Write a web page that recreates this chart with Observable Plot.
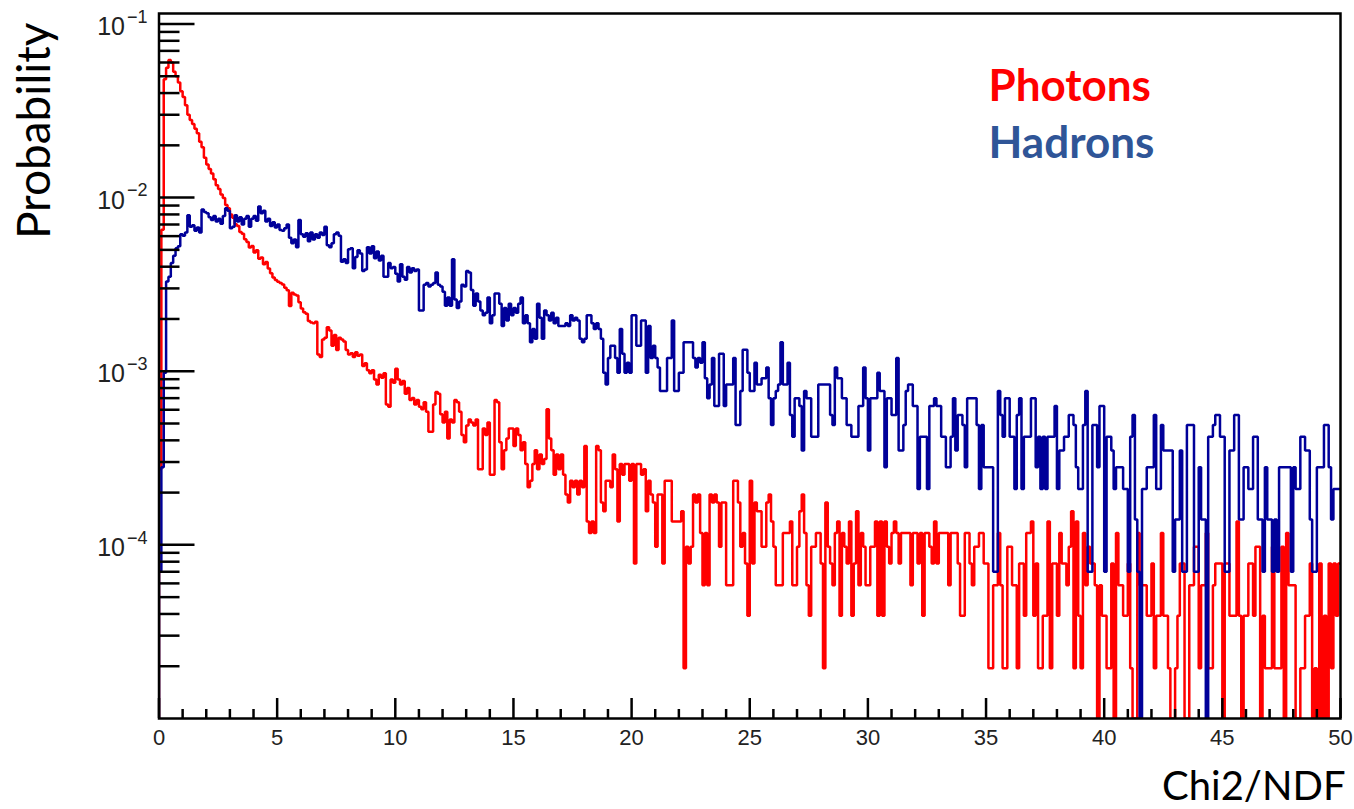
<!DOCTYPE html>
<html>
<head>
<meta charset="utf-8">
<script src="https://cdn.jsdelivr.net/npm/d3@7"></script>
<script src="https://cdn.jsdelivr.net/npm/@observablehq/plot@0.6"></script>
<style>
  html, body { margin: 0; padding: 0; background: #ffffff; }
  #chart { width: 1354px; height: 809px; }
</style>
</head>
<body>
<div id="chart"></div>
<script>
// ---------------- data ----------------
const binWidth = 0.1;              // Chi2/NDF bin width (500 bins from 0 to 50)
const photonUnit = 1.95e-5;        // probability of one photon entry
const hadronUnit = 7.0e-5;         // probability of one hadron entry

// entries per bin
const photonCounts = [
  14, 335, 2460, 2870, 3180, 3080, 2720, 2560, 2360, 2100,
  1950, 1745, 1540, 1435, 1360, 1280, 1205, 1075, 1000, 870,
  795, 750, 705, 655, 605, 575, 535, 510, 465, 445,
  410, 392, 360, 352, 325, 318, 295, 285, 265, 270,
  248, 255, 228, 232, 212, 218, 200, 188, 178, 172,
  168, 165, 162, 155, 150, 122, 145, 142, 140, 128,
  118, 112, 110, 100, 98, 97, 99, 64, 62, 78,
  80, 92, 88, 72, 83, 68, 80, 78, 76, 68,
  64, 65, 62, 66, 63, 64, 55, 57, 52, 50,
  52, 46, 43, 49, 47, 50, 33, 32, 46, 44,
  53, 46, 43, 45, 38, 41, 35, 36, 33, 35,
  32, 31, 34, 30, 23, 23, 33, 39, 38, 29,
  26, 30, 21, 27, 26, 35, 34, 30, 22, 20,
  25, 27, 26, 25, 27, 14, 14, 24, 22, 26,
  13, 13, 35, 34, 20, 14, 18, 21, 24, 24,
  19, 24, 22, 18, 20, 15, 11, 12, 15, 18,
  14, 17, 15, 16, 31, 21, 18, 13, 17, 14,
  17, 13, 10, 9, 12, 11, 12, 10, 12, 11,
  19, 7, 6, 7, 6, 19, 18, 9, 8, 12,
  12, 11, 17, 14, 7, 15, 13, 15, 15, 12,
  15, 4, 15, 15, 13, 14, 8, 12, 10, 9,
  5, 10, 10, 4, 12, 12, 12, 7, 7, 7,
  7, 8, 1, 5, 4, 5, 10, 9, 10, 6,
  3, 6, 3, 10, 9, 10, 9, 5, 9, 9,
  3, 3, 3, 12, 12, 9, 5, 6, 4, 2,
  12, 4, 9, 8, 8, 5, 5, 9, 10, 7,
  5, 3, 3, 3, 6, 6, 6, 7, 3, 3,
  5, 8, 10, 6, 3, 2, 5, 5, 6, 6,
  4, 1, 9, 5, 4, 3, 6, 7, 2, 6,
  5, 4, 7, 2, 4, 8, 3, 6, 5, 3,
  3, 5, 5, 7, 2, 7, 2, 7, 5, 4,
  6, 7, 6, 4, 6, 6, 6, 6, 3, 6,
  6, 4, 6, 2, 6, 6, 5, 4, 7, 4,
  6, 6, 6, 6, 3, 6, 6, 6, 4, 2,
  2, 6, 6, 4, 3, 5, 5, 6, 6, 4,
  4, 1, 1, 3, 3, 6, 3, 1, 1, 5,
  5, 3, 3, 1, 4, 4, 2, 6, 6, 7,
  2, 4, 1, 1, 2, 2, 7, 1, 4, 4,
  2, 6, 4, 4, 3, 5, 8, 1, 7, 2,
  1, 6, 3, 5, 4, 4, 3, 0, 3, 2,
  2, 1, 1, 4, 0, 6, 3, 3, 2, 2,
  4, 1, 0, 0, 6, 3, 3, 3, 2, 2,
  4, 1, 2, 2, 6, 2, 2, 1, 0, 0,
  1, 2, 4, 4, 0, 0, 3, 3, 5, 5,
  1, 3, 3, 6, 1, 1, 3, 4, 4, 4,
  0, 4, 4, 2, 2, 2, 7, 2, 0, 2,
  2, 4, 4, 2, 5, 5, 0, 2, 1, 1,
  1, 5, 1, 1, 1, 5, 0, 6, 3, 3,
  3, 0, 0, 1, 1, 2, 2, 4, 0, 1,
  0, 4, 0, 2, 0, 4, 1, 4, 2, 4
];

const hadronCounts = [
  1, 4, 14, 47, 50, 60, 66, 73, 75, 88,
  86, 90, 113, 97, 99, 92, 96, 90, 122, 118,
  116, 110, 106, 112, 104, 108, 101, 112, 124, 120,
  95, 97, 113, 104, 110, 100, 108, 112, 97, 108,
  112, 105, 127, 116, 120, 104, 108, 98, 103, 96,
  100, 93, 92, 95, 100, 84, 78, 82, 74, 106,
  88, 85, 89, 80, 90, 82, 88, 84, 90, 87,
  97, 76, 74, 78, 88, 90, 86, 61, 63, 60,
  72, 73, 56, 65, 71, 68, 54, 55, 74, 68,
  75, 64, 70, 62, 66, 50, 50, 60, 56, 57,
  52, 47, 59, 50, 48, 57, 53, 56, 54, 55,
  32, 32, 45, 46, 44, 45, 46, 53, 45, 44,
  41, 34, 38, 34, 63, 37, 33, 36, 45, 44,
  54, 53, 42, 34, 40, 36, 32, 30, 31, 38,
  27, 30, 40, 40, 35, 26, 33, 28, 35, 30,
  33, 31, 35, 38, 27, 30, 27, 21, 25, 22,
  35, 29, 22, 32, 30, 28, 31, 27, 29, 26,
  26, 26, 27, 26, 30, 28, 29, 28, 22, 21,
  22, 30, 30, 27, 25, 27, 25, 22, 14, 12,
  17, 20, 20, 17, 14, 25, 18, 14, 16, 14,
  30, 30, 20, 20, 28, 28, 14, 26, 17, 20,
  17, 15, 11, 11, 11, 17, 17, 28, 11, 11,
  14, 14, 21, 21, 21, 21, 17, 15, 17, 16,
  21, 13, 10, 12, 17, 9, 9, 18, 18, 9,
  12, 12, 12, 17, 7, 7, 11, 19, 19, 14,
  11, 11, 16, 12, 12, 13, 13, 15, 10, 7,
  10, 11, 12, 21, 12, 12, 16, 8, 6, 10,
  10, 9, 5, 11, 10, 10, 6, 6, 6, 12,
  12, 12, 12, 12, 8, 7, 15, 13, 13, 10,
  10, 7, 7, 6, 6, 6, 9, 9, 15, 10,
  5, 10, 10, 10, 14, 11, 11, 4, 10, 10,
  8, 8, 17, 5, 5, 7, 11, 12, 12, 9,
  9, 3, 6, 6, 6, 3, 9, 9, 10, 9,
  9, 6, 6, 4, 4, 6, 10, 5, 8, 8,
  7, 4, 10, 10, 10, 10, 7, 3, 7, 4,
  4, 4, 4, 1, 1, 11, 8, 6, 10, 10,
  6, 6, 3, 8, 10, 3, 6, 6, 6, 10,
  10, 4, 6, 3, 6, 3, 6, 6, 6, 9,
  3, 5, 5, 6, 6, 8, 8, 7, 4, 3,
  3, 7, 11, 1, 1, 7, 7, 4, 9, 9,
  1, 6, 6, 5, 3, 4, 4, 4, 3, 3,
  1, 6, 8, 2, 1, 0, 3, 3, 4, 4,
  4, 8, 3, 3, 7, 5, 5, 5, 5, 1,
  2, 2, 5, 1, 1, 7, 7, 7, 1, 1,
  4, 2, 2, 0, 6, 6, 7, 8, 8, 6,
  6, 1, 1, 5, 5, 8, 8, 2, 2, 4,
  4, 3, 3, 6, 6, 2, 2, 1, 4, 2,
  2, 1, 2, 1, 4, 4, 4, 4, 4, 1,
  4, 3, 3, 6, 6, 5, 5, 2, 1, 1,
  4, 4, 4, 7, 7, 4, 2, 3, 3, 3
];

const seriesNames  = ["Photons", "Hadrons"];
const lineColors   = ["#ff0000", "#000099"];
const legendColors = ["#ff0000", "#2f5597"];

const xTickLabels   = [0, 5, 10, 15, 20, 25, 30, 35, 40, 45, 50];
const xMinorTicks   = d3.range(0, 51, 1);
const yLabelValues  = [1e-1, 1e-2, 1e-3, 1e-4];
const yLabelMantissa = ["10", "10", "10", "10"];
const yLabelExponents = ["\u22121", "\u22122", "\u22123", "\u22124"];
const yMinorMultipliers = [2, 3, 4, 5, 6, 7, 8, 9];
const yMinorDecades = [1e-5, 1e-4, 1e-3, 1e-2];

const xTitle = "Chi2/NDF";
const yTitle = "Probability";

// ---------------- layout ----------------
const W = 1354, H = 809;
const mL = 158.5, mR = 14, mT = 13, mB = 91;
const frameW = W - mL - mR, frameH = H - mT - mB;
const xDomain = [0, 50];
const yDomain = [1e-5, 0.1149];

function steps(counts, unit) {
  const floor = yDomain[0];
  const pts = [{x: xDomain[0], y: floor}];
  counts.forEach((c, i) => pts.push({x: xDomain[0] + i * binWidth, y: c > 0 ? c * unit : floor}));
  const last = counts[counts.length - 1];
  pts.push({x: xDomain[1], y: last > 0 ? last * unit : floor});
  return pts;
}
const photonSteps = steps(photonCounts, photonUnit);
const hadronSteps = steps(hadronCounts, hadronUnit);

const yMinorTicks = yMinorDecades.flatMap(d => yMinorMultipliers.map(m => m * d))
  .filter(v => v > yDomain[0] && v < yDomain[1]);
const xMinorOnly = xMinorTicks.filter(v => v % 5 !== 0);

const labelFont = "Liberation Sans, Arial, Helvetica, sans-serif";
const titleFont = "Lato, 'Open Sans', sans-serif";

const plot = Plot.plot({
  width: W,
  height: H,
  marginLeft: mL,
  marginRight: mR,
  marginTop: mT,
  marginBottom: mB,
  style: {background: "#ffffff", overflow: "visible"},
  x: {domain: xDomain, axis: null},
  y: {type: "log", domain: yDomain, axis: null},
  marks: [
    // histograms
    Plot.line(photonSteps, {x: "x", y: "y", curve: "step-after", stroke: lineColors[0],
      strokeWidth: 2.5, strokeLinejoin: "miter", strokeLinecap: "butt", clip: true}),
    Plot.line(hadronSteps, {x: "x", y: "y", curve: "step-after", stroke: lineColors[1],
      strokeWidth: 2.5, strokeLinejoin: "miter", strokeLinecap: "butt", clip: true}),
    // inner ticks (ROOT style)
    Plot.ruleY(yLabelValues, {y: d => d, insetRight: frameW - 36, stroke: "#000", strokeWidth: 2.5}),
    Plot.ruleY(yMinorTicks, {y: d => d, insetRight: frameW - 21, stroke: "#000", strokeWidth: 2.5}),
    Plot.ruleX(xTickLabels, {x: d => d, insetTop: frameH - 20, stroke: "#000", strokeWidth: 2.5}),
    Plot.ruleX(xMinorOnly, {x: d => d, insetTop: frameH - 9, stroke: "#000", strokeWidth: 2.5}),
    Plot.frame({stroke: "#000", strokeWidth: 2.5}),
    // x tick labels
    Plot.text(xTickLabels, {x: d => d, text: d => String(d), frameAnchor: "bottom", dy: 19,
      lineAnchor: "middle", fontSize: 22, fontFamily: labelFont, fill: "#222"}),
    // y tick labels: 10^-n
    Plot.text(yLabelValues, {y: d => d, text: (d, i) => yLabelMantissa[i], frameAnchor: "left",
      dx: -34, dy: 3, textAnchor: "end", lineAnchor: "middle", fontSize: 25, fontFamily: labelFont, fill: "#222"}),
    Plot.text(yLabelValues, {y: d => d, text: (d, i) => yLabelExponents[i], frameAnchor: "left",
      dx: -32, dy: -7, textAnchor: "start", lineAnchor: "middle", fontSize: 18, fontFamily: labelFont, fill: "#222"}),
    // axis titles
    Plot.text([yTitle], {text: d => d, frameAnchor: "top-left", dx: 35 - mL, dy: 22 - mT, rotate: -90,
      textAnchor: "end", lineAnchor: "middle", fontSize: 46, fontFamily: titleFont, fill: "#000"}),
    Plot.text([xTitle], {text: d => d, frameAnchor: "bottom-right", dx: 5, dy: 69,
      textAnchor: "end", lineAnchor: "middle", fontSize: 40, fontFamily: titleFont, fill: "#000"}),
    // legend
    Plot.text([seriesNames[0]], {text: d => d, frameAnchor: "top-left", dx: 988 - mL, dy: 86 - mT,
      textAnchor: "start", lineAnchor: "middle", fontSize: 44, fontWeight: "bold", fontFamily: titleFont, fill: legendColors[0]}),
    Plot.text([seriesNames[1]], {text: d => d, frameAnchor: "top-left", dx: 988 - mL, dy: 143 - mT,
      textAnchor: "start", lineAnchor: "middle", fontSize: 44, fontWeight: "bold", fontFamily: titleFont, fill: legendColors[1]})
  ]
});
document.getElementById("chart").appendChild(plot);
</script>
</body>
</html>
